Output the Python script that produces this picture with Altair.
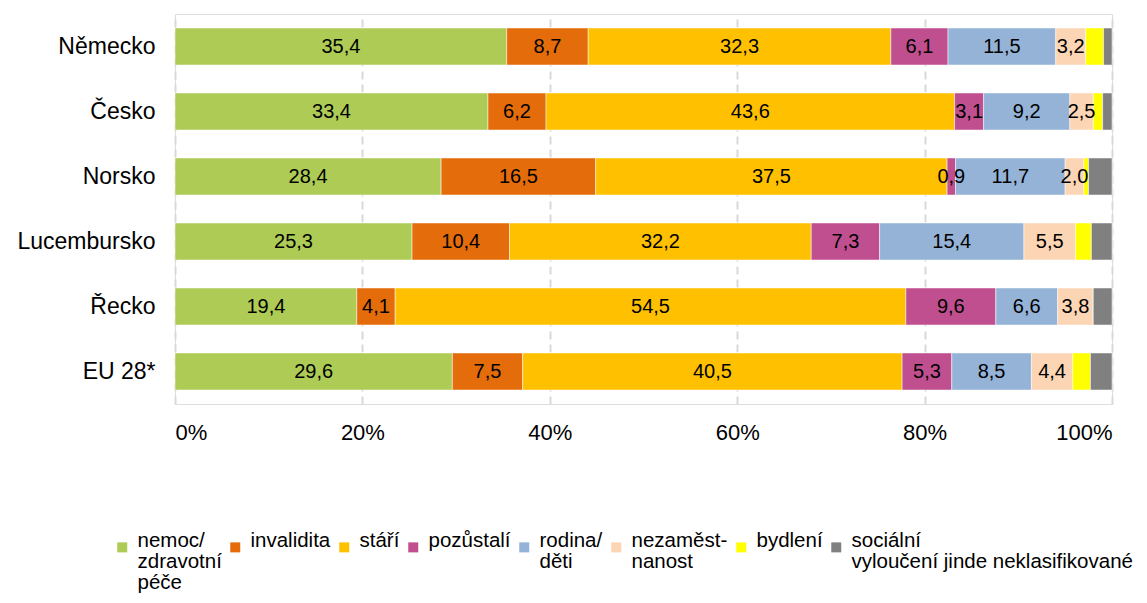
import altair as alt
import pandas as pd

countries = ["Německo", "Česko", "Norsko", "Lucembursko", "Řecko", "EU 28*"]
categories = [
    "nemoc/zdravotní péče",
    "invalidita",
    "stáří",
    "pozůstalí",
    "rodina/děti",
    "nezaměstnanost",
    "bydlení",
    "sociální vyloučení jinde neklasifikované",
]
colors = ["#ADCB55", "#E46C0A", "#FFC000", "#BF4F8F", "#95B3D7", "#FCD5B5", "#FFFF00", "#808080"]

nemoc = [35.4, 33.4, 28.4, 25.3, 19.4, 29.6]
invalidita = [8.7, 6.2, 16.5, 10.4, 4.1, 7.5]
stari = [32.3, 43.6, 37.5, 32.2, 54.5, 40.5]
pozustali = [6.1, 3.1, 0.9, 7.3, 9.6, 5.3]
rodina = [11.5, 9.2, 11.7, 15.4, 6.6, 8.5]
nezamestnanost = [3.2, 2.5, 2.0, 5.5, 3.8, 4.4]
bydleni = [1.9, 1.0, 0.5, 1.7, 0.0, 1.9]
socialni = [0.9, 1.0, 2.5, 2.2, 2.0, 2.3]

series = [nemoc, invalidita, stari, pozustali, rodina, nezamestnanost, bydleni, socialni]

rows = []
for ci, cat in enumerate(categories):
    for k, c in enumerate(countries):
        v = series[ci][k]
        rows.append({
            "country": c,
            "category": cat,
            "order": ci,
            "value": v,
            "label": (f"{v:.1f}".replace(".", ",") if ci < 6 and v > 0 else ""),
        })
df = pd.DataFrame(rows)

FONT = "Liberation Sans"

# all legend labels padded to three lines so that every entry has the same height
label_expr = (
    "datum.label == 'nemoc/zdravotní péče' ? ['nemoc/', 'zdravotní', 'péče'] : "
    "datum.label == 'rodina/děti' ? ['rodina/', 'děti', ''] : "
    "datum.label == 'nezaměstnanost' ? ['nezaměst-', 'nanost', ''] : "
    "datum.label == 'sociální vyloučení jinde neklasifikované' ? ['sociální', 'vyloučení jinde neklasifikované', ''] : "
    "[datum.label, '', '']"
)

base = alt.Chart(df).transform_stack(
    stack="value",
    groupby=["country"],
    as_=["v0", "v1"],
    offset="normalize",
    sort=[alt.SortField("order", order="ascending")],
).transform_calculate(mid="(datum.v0 + datum.v1) / 2")

y_enc = alt.Y(
    "country:N",
    sort=countries,
    title=None,
    scale=alt.Scale(paddingInner=0.43, paddingOuter=0.215),
    axis=alt.Axis(domain=False, ticks=False, labelFontSize=23, labelFont=FONT,
                  labelColor="#000000", labelPadding=20, grid=False),
)

x_scale = alt.Scale(domain=[0, 1], nice=False)

bars = base.mark_bar(stroke="#FFFFFF", strokeWidth=0.5).encode(
    x=alt.X("v0:Q", scale=x_scale, title=None,
            axis=alt.Axis(values=[0, 0.2, 0.4, 0.6, 0.8, 1.0], format="%", domain=False,
                          ticks=False, labelFontSize=22, labelFont=FONT, labelColor="#000000",
                          labelPadding=18, grid=True, gridColor="#D9D9D9", gridWidth=2,
                          gridDash=[8, 5])),
    x2="v1:Q",
    y=y_enc,
    color=alt.Color(
        "category:N",
        sort=categories,
        scale=alt.Scale(domain=categories, range=colors),
        legend=alt.Legend(
            title=None,
            orient="none",
            legendX=-63,
            legendY=523,
            direction="horizontal",
            columns=8,
            symbolType="square",
            symbolSize=100,
            symbolStrokeWidth=0,
            labelFontSize=20.5,
            labelFont=FONT,
            labelColor="#000000",
            labelLimit=400,
            labelOffset=5,
            labelBaseline="alphabetic",
            columnPadding=3,
            labelExpr=label_expr,
        ),
    ),
)

texts = base.mark_text(fontSize=20, font=FONT, color="#000000").transform_filter(
    "datum.label != ''"
).encode(
    x=alt.X("mid:Q", scale=x_scale),
    y=alt.Y("country:N", sort=countries),
    text="label:N",
)

chart = alt.layer(bars, texts).properties(
    width=937,
    height=390,
    autosize=alt.AutoSizeParams(type="none"),
    padding={"left": 167, "top": 6, "right": 27, "bottom": 191},
).configure_view(stroke=None).configure(
    style={"guide-label": {"lineHeight": 21}}
)

chart.save("out.html", embed_options={"renderer": "svg", "actions": False})
